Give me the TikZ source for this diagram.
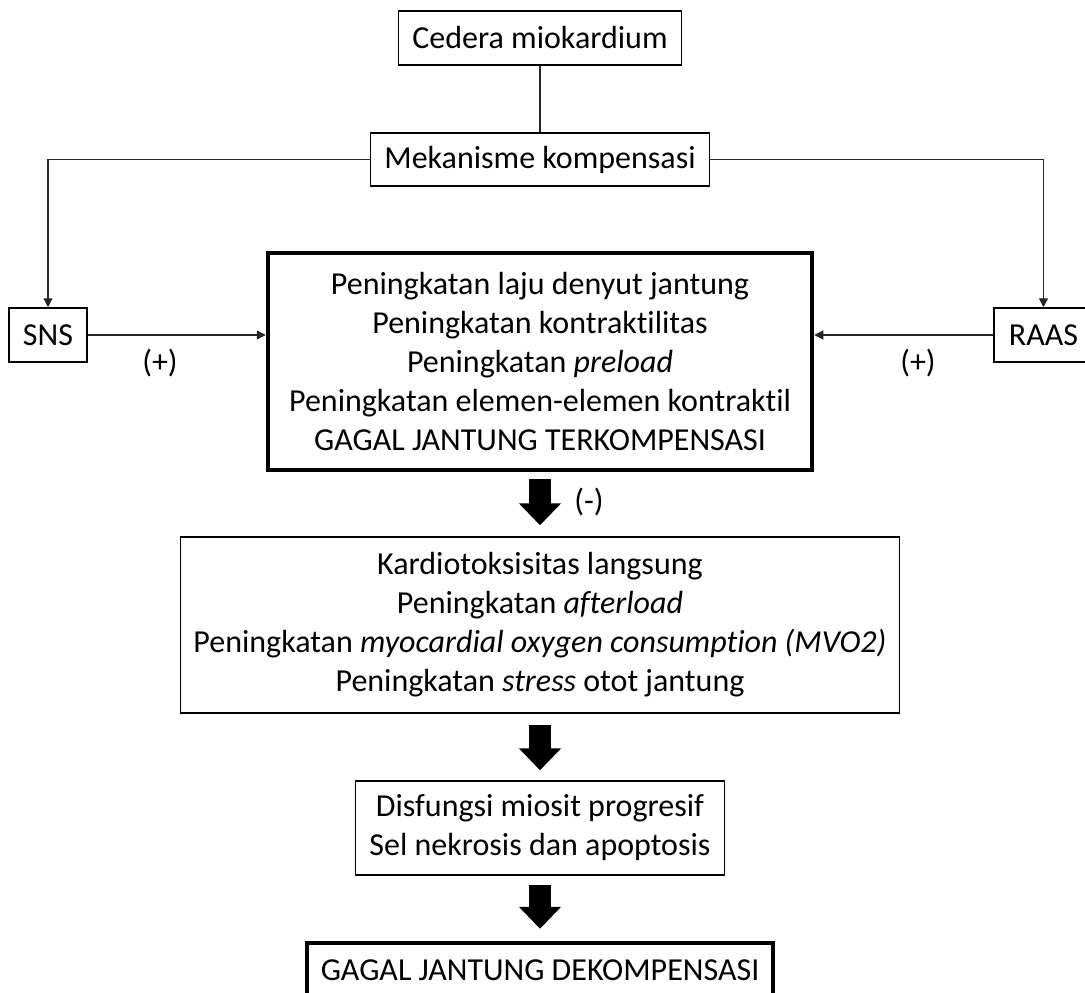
\documentclass[tikz,border=0pt]{standalone}
\usepackage{fontspec}
\setmainfont{Carlito}[Ligatures={NoCommon}]
\usetikzlibrary{arrows.meta}
\begin{document}
\begin{tikzpicture}[x=1pt,y=-1pt,
  every node/.style={font=\fontsize{32}{39}\selectfont, align=center},
  box/.style={draw=black, line width=1.5pt, inner xsep=14pt, inner ysep=0pt, minimum height=54pt},
  thickbox/.style={draw=black, line width=4.5pt, inner xsep=14pt, inner ysep=0pt},
  link/.style={draw=black!85, line width=1.2pt},
  linkarrow/.style={link, -{Triangle[length=9pt,width=9pt]}},
  bigarrow/.style={draw=black, line width=22pt, -{Triangle[length=22pt,width=41pt]}},
  sign/.style={inner sep=0pt}]
  \useasboundingbox (0,0) rectangle (1085,993);

  % boxes
  \node[box] (injury) at (540,38) {Cedera miokardium};
  \node[box, minimum height=53pt] (comp) at (540,159.5) {Mekanisme kompensasi};
  \node[box, minimum width=78pt, inner xsep=0pt] (sns) at (48,335) {SNS};
  \node[box, minimum width=99pt, inner xsep=0pt] (raas) at (1043.5,335) {RAAS};
  \node[thickbox, minimum width=544pt, minimum height=217pt] (compensated) at (540,361.5)
    {Peningkatan laju denyut jantung\\
     Peningkatan kontraktilitas\\
     Peningkatan \textit{preload}\\
     Peningkatan elemen-elemen kontraktil\\
     GAGAL JANTUNG TERKOMPENSASI};
  \node[box, inner xsep=13pt, minimum height=176pt] (damage) at (540,625)
    {Kardiotoksisitas langsung\\
     Peningkatan \textit{afterload}\\
     Peningkatan \textit{myocardial oxygen consumption (MVO2)}\\
     Peningkatan \textit{stress} otot jantung};
  \node[box, minimum height=94pt] (myocyte) at (540,828)
    {Disfungsi miosit progresif\\
     Sel nekrosis dan apoptosis};
  \node[thickbox, minimum height=54pt] (decomp) at (540,970) {GAGAL JANTUNG DEKOMPENSASI};

  % thin connectors
  \draw[link] (injury) -- (comp);
  \draw[linkarrow] (comp.west) -| (sns.north);
  \draw[linkarrow] (comp.east) -| (raas.north);
  \draw[linkarrow] (sns.east) -- (sns.east -| compensated.west);
  \draw[linkarrow] (raas.west) -- (raas.west -| compensated.east);
  \node[sign] (plusL) at (160,363) {(+)};
  \node[sign] (plusR) at (918,363) {(+)};

  % block arrows
  \draw[bigarrow, shorten <=7pt, shorten >=11pt] (compensated.south) -- (damage.north);
  \draw[bigarrow, shorten <=11pt, shorten >=10pt] (damage.south) -- (myocyte.north);
  \draw[bigarrow, shorten <=9pt, shorten >=12pt] (myocyte.south) -- (decomp.north);
  \node[sign] (minus) at (589,502) {(-)};
\end{tikzpicture}
\end{document}
